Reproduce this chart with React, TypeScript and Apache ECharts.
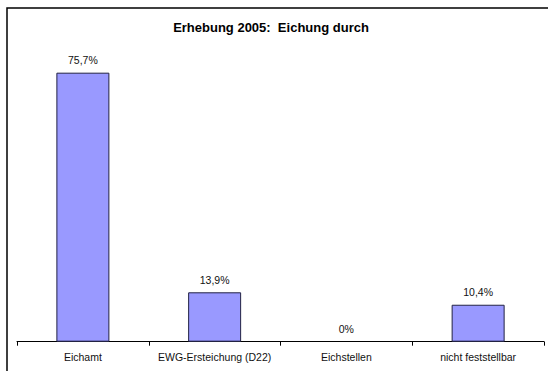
import React, { useEffect, useRef } from "react";
import * as echarts from "echarts";

const categories = ["Eichamt", "EWG-Ersteichung (D22)", "Eichstellen", "nicht feststellbar"];
const values = [75.7, 13.9, 0, 10.4];
const titleText = "Erhebung 2005:  Eichung durch";

const FONT = "'Liberation Sans', Arial, sans-serif";
const fmt = (v: number) => (v === 0 ? "0%" : v.toFixed(1).replace(".", ",") + "%");

export default function App() {
  const ref = useRef<HTMLDivElement>(null);
  useEffect(() => {
    const chart = echarts.init(ref.current!, null, { renderer: "svg" });
    chart.setOption({
      animation: false,
      backgroundColor: "#ffffff",
      textStyle: { fontFamily: FONT },
      graphic: [
        {
          type: "rect",
          shape: { x: 7, y: 8, width: 600, height: 500 },
          style: { fill: "none", stroke: "#000", lineWidth: 1.5 },
          silent: true,
        },
        {
          type: "text",
          x: 271,
          y: 27,
          style: {
            text: titleText,
            align: "center",
            verticalAlign: "middle",
            fill: "#000",
            font: "bold 13px " + FONT,
          },
          silent: true,
        },
      ],
      grid: { left: 17, right: 4, top: 57.4, bottom: 29.3 },
      xAxis: {
        type: "category",
        data: categories,
        axisLine: { lineStyle: { color: "#000", width: 1 } },
        axisTick: { show: true, length: 4, lineStyle: { color: "#000" } },
        axisLabel: { interval: 0, color: "#111", fontSize: 10.5, margin: 10, fontFamily: FONT },
      },
      yAxis: {
        type: "value",
        min: 0,
        max: 80,
        show: false,
        splitLine: { show: false },
      },
      series: [
        {
          type: "bar",
          data: values.map((v) => (v === 0 ? { value: v, itemStyle: { borderWidth: 0 } } : v)),
          barWidth: 53,
          itemStyle: { color: "#9999FF", borderColor: "#222244", borderWidth: 1 },
          label: {
            show: true,
            position: "top",
            distance: 7,
            color: "#111",
            fontSize: 10.5,
            fontFamily: FONT,
            formatter: (p: any) => fmt(p.value),
          },
        },
      ],
    });
    return () => chart.dispose();
  }, []);
  return (
    <div
      ref={ref}
      style={{ position: "fixed", left: 0, top: 0, width: 548, height: 371 }}
    />
  );
}
